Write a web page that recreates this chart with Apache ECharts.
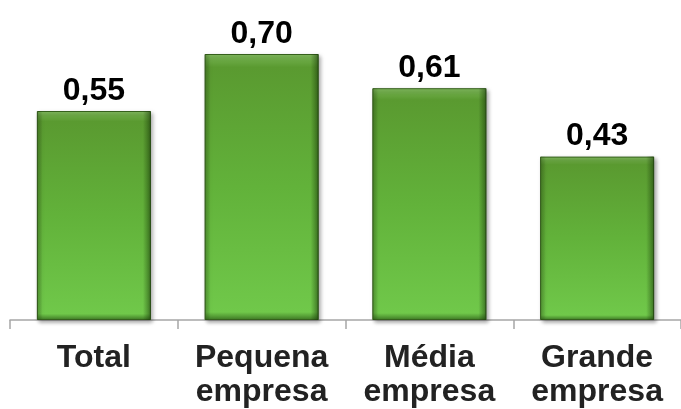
<!DOCTYPE html>
<html>
<head>
<meta charset="utf-8">
<script src="https://cdn.jsdelivr.net/npm/echarts@6/dist/echarts.min.js"></script>
<style>html,body{margin:0;padding:0;background:#fff}#c{width:681px;height:409px}</style>
</head>
<body>
<div id="c"></div>
<script>
var categories = ['Total', 'Pequena\nempresa', 'Média\nempresa', 'Grande\nempresa'];
var values = [0.55, 0.70, 0.61, 0.43];

var chart = echarts.init(document.getElementById('c'), null, {renderer: 'canvas'});
var G = echarts.graphic.LinearGradient;
chart.setOption({
  animation: false,
  grid: {left: 10, right: -5, top: 16, bottom: 88, containLabel: false},
  xAxis: {
    type: 'category',
    data: categories,
    axisLine: {lineStyle: {color: '#a6a6a6', width: 1.5}},
    axisTick: {show: true, length: 9, lineStyle: {color: '#a6a6a6', width: 1.5}},
    axisLabel: {
      interval: 0, margin: 21, color: '#222',
      fontFamily: 'Liberation Sans, Arial', fontWeight: 'bold', fontSize: 32, lineHeight: 34
    }
  },
  yAxis: {type: 'value', min: 0, max: 0.8, show: false, splitLine: {show: false}},
  series: [{
    type: 'bar',
    data: values,
    barWidth: 114,
    z: 2,
    itemStyle: {
      color: new G(0, 0, 0, 1, [
        {offset: 0, color: '#86c062'},
        {offset: 0.025, color: '#6aa843'},
        {offset: 0.05, color: '#5a9a30'},
        {offset: 0.5, color: '#62b23a'},
        {offset: 0.97, color: '#70c84a'},
        {offset: 1, color: '#3f7a26'}
      ]),
      borderColor: '#35601c',
      borderWidth: 1,
      shadowColor: 'rgba(0,0,0,0.35)',
      shadowBlur: 4,
      shadowOffsetX: 2,
      shadowOffsetY: 2
    },
    label: {
      show: true, position: 'top', distance: 4, color: '#000',
      fontFamily: 'Liberation Sans, Arial', fontWeight: 'bold', fontSize: 32,
      formatter: function (p) { return p.value.toFixed(2).replace('.', ','); }
    }
  }, {
    type: 'bar',
    data: values,
    barWidth: 114,
    barGap: '-100%',
    z: 3,
    silent: true,
    itemStyle: {
      color: new G(0, 0, 1, 0, [
        {offset: 0, color: 'rgba(30,60,10,0.35)'},
        {offset: 0.05, color: 'rgba(30,60,10,0.0)'},
        {offset: 0.93, color: 'rgba(20,50,5,0.0)'},
        {offset: 1, color: 'rgba(20,50,5,0.55)'}
      ])
    },
    label: {show: false}
  }]
});
</script>
</body>
</html>
